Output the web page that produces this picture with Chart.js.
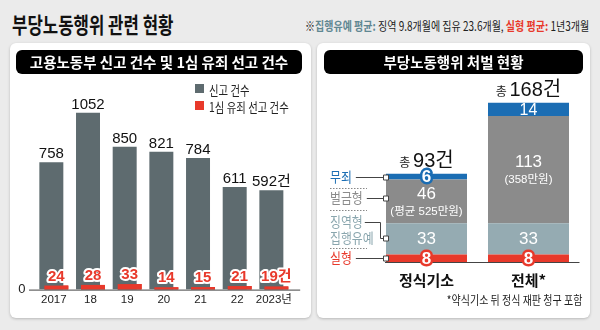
<!DOCTYPE html>
<html>
<head>
<meta charset="utf-8">
<script src="https://cdn.jsdelivr.net/npm/chart.js"></script>
<style>
body { margin: 0; width: 600px; height: 330px; background: #ebebeb; position: relative; overflow: hidden;
       font-family: 'Noto Sans CJK KR', 'Liberation Sans', sans-serif; color: #222; }
.abs { position: absolute; }
#title { left: 12px; top: 11px; font-size: 22px; line-height: 24px; font-weight: bold; color: #111;
         transform: scaleX(0.76); transform-origin: left top; white-space: nowrap; }
#note { right: 11px; top: 19px; font-size: 12.5px; line-height: 14px; white-space: nowrap;
        transform: scaleX(0.8); transform-origin: right top; }
#note .t { color: #5f8792; }
#note .r { color: #e8392b; }
.card { background: #fff; border-radius: 6px; box-shadow: 0 1px 3px rgba(0,0,0,0.22); }
.bar { background: #000; color: #fff; border-radius: 6px; font-weight: bold; font-size: 14.5px;
       line-height: 24px; height: 24px; text-align: center; white-space: nowrap; z-index: 2; }
canvas { position: absolute; }
#legend { left: 195px; top: 82px; z-index: 2; }
#legend div { height: 17px; line-height: 13px; white-space: nowrap; }
#legend i { display: inline-block; width: 9px; height: 9px; vertical-align: top; margin-top: 2px; }
#legend span { display: inline-block; font-size: 13px; margin-left: 5px; transform: scaleX(0.8);
               transform-origin: left top; }
#foot { right: 18px; top: 293px; font-size: 12.5px; line-height: 14px; white-space: nowrap;
        transform: scaleX(0.8); transform-origin: right top; }
</style>
</head>
<body>
<div id="title" class="abs">부당노동행위 관련 현황</div>
<div id="note" class="abs">※<b class="t">집행유예 평균:</b> 징역 9.8개월에 집유 23.6개월, <b class="r">실형 평균:</b> 1년3개월</div>

<div class="abs card" style="left:10px;top:43px;width:301px;height:275px"></div>
<div class="abs card" style="left:317px;top:43px;width:273px;height:275px"></div>
<div class="abs bar" style="left:16px;top:50px;width:286px">고용노동부 신고 건수 및 1심 유죄 선고 건수</div>
<div class="abs bar" style="left:324px;top:50px;width:259px">부당노동행위 처벌 현황</div>

<canvas id="leftChart" width="301" height="275" style="left:10px;top:43px"></canvas>
<canvas id="rightChart" width="273" height="275" style="left:317px;top:43px"></canvas>
<div id="legend" class="abs"></div>
<div id="foot" class="abs">*약식기소 뒤 정식 재판 청구 포함</div>

<script>
// left chart data
const years = ['2017', '18', '19', '20', '21', '22', '2023년'];
const reports = [758, 1052, 850, 821, 784, 611, 592];
const convictions = [24, 28, 33, 14, 15, 21, 19];

// right chart data
const groups = ['정식기소', '전체*'];
const prison = [8, 8];
const suspended = [33, 33];
const fined = [46, 113];
const acquitted = [6, 14];
const fineNotes = ['(평균 525만원)', '(358만원)'];

const RED = '#e8392b', SLATE = '#5e6b6f', TEAL = '#95abb2', GRAY = '#8b8b8b', BLUE = '#1b6db3';
const NUM = "'Liberation Sans', 'Noto Sans CJK KR', sans-serif";
const KR = "'Noto Sans CJK KR', sans-serif";

function condText(ctx, text, x, y, sx) {
    ctx.save();
    ctx.translate(x, y);
    ctx.scale(sx, 1);
    ctx.fillText(text, 0, 0);
    ctx.restore();
    return ctx.measureText(text).width * sx;
}

function outlined(ctx, text, x, y, color, size) {
    ctx.font = 'bold ' + size + 'px ' + NUM;
    ctx.lineJoin = 'round';
    ctx.lineWidth = 5;
    ctx.strokeStyle = color;
    ctx.strokeText(text, x, y);
    ctx.fillStyle = '#fff';
    ctx.fillText(text, x, y);
}

const leftLabels = {
    id: 'leftLabels',
    afterDatasetsDraw(chart) {
        const ctx = chart.ctx;
        const red = chart.getDatasetMeta(1);
        // red bars sit in front of the grey ones
        red.data.forEach(el => el.draw(ctx));

        const y0 = chart.scales.y.getPixelForValue(0);
        ctx.save();
        ctx.strokeStyle = '#444';
        ctx.lineWidth = 1;
        ctx.beginPath();
        ctx.moveTo(chart.chartArea.left - 6.5, y0 + 0.5);
        ctx.lineTo(chart.chartArea.right + 8, y0 + 0.5);
        ctx.stroke();

        ctx.textAlign = 'center';
        const last = years.length - 1;
        chart.getDatasetMeta(0).data.forEach((el, i) => {
            ctx.font = '15px ' + NUM;
            ctx.fillStyle = '#111';
            ctx.fillText(reports[i] + (i === last ? '건' : ''), el.x, el.y - 4);
        });
        red.data.forEach((el, i) => {
            const t = convictions[i] + (i === last ? '건' : '');
            ctx.font = 'bold 15px ' + NUM;
            ctx.lineJoin = 'round';
            ctx.lineWidth = 4;
            ctx.strokeStyle = '#fff';
            ctx.strokeText(t, el.x, el.y - 5);
            ctx.fillStyle = RED;
            ctx.fillText(t, el.x, el.y - 5);
        });
        ctx.restore();
    }
};

const leftChart = new Chart(document.getElementById('leftChart'), {
    type: 'bar',
    data: {
        labels: years,
        datasets: [
            { label: '신고 건수', data: reports, backgroundColor: SLATE, categoryPercentage: 0.2725, barPercentage: 4.8 },
            { label: '1심 유죄 선고 건수', data: convictions, backgroundColor: RED, categoryPercentage: 0.2725, barPercentage: 4.8 }
        ]
    },
    options: {
        responsive: false,
        animation: false,
        layout: { padding: { top: 45, right: 18.8, bottom: 8.6, left: 0 } },
        plugins: { legend: { display: false }, tooltip: { enabled: false } },
        scales: {
            x: {
                grid: { display: false, drawTicks: false },
                border: { display: false },
                ticks: { color: '#222', font: { size: 11.5, family: NUM }, padding: 3, maxRotation: 0, autoSkip: false }
            },
            y: {
                min: 0, max: 1200,
                grid: { display: false, drawTicks: false },
                border: { display: false },
                afterBuildTicks: s => { s.ticks = [{ value: 0 }]; },
                afterFit: s => { s.width = 25.5; },
                ticks: { color: '#222', font: { size: 13, family: NUM }, padding: 10 }
            }
        }
    },
    plugins: [leftLabels]
});

// html legend from the dataset labels
const legend = document.getElementById('legend');
leftChart.data.datasets.forEach(ds => {
    const row = document.createElement('div');
    row.innerHTML = '<i style="background:' + ds.backgroundColor + '"></i><span>' + ds.label + '</span>';
    legend.appendChild(row);
});

const rightLabels = {
    id: 'rightLabels',
    afterDatasetsDraw(chart) {
        const ctx = chart.ctx;
        const metas = [0, 1, 2, 3].map(i => chart.getDatasetMeta(i));
        const mid = el => (el.y + el.base) / 2;
        const y0 = chart.scales.y.getPixelForValue(0);
        const first = metas[0].data[0];
        const barLeft = first.x - first.width / 2;

        ctx.save();
        ctx.strokeStyle = '#444';
        ctx.lineWidth = 1;
        ctx.beginPath();
        ctx.moveTo(barLeft - 1, y0 + 0.5);
        ctx.lineTo(chart.chartArea.right, y0 + 0.5);
        ctx.stroke();

        ctx.textAlign = 'center';
        ctx.textBaseline = 'middle';
        for (let i = 0; i < groups.length; i++) {
            const r = metas[0].data[i], s = metas[1].data[i], f = metas[2].data[i], a = metas[3].data[i];
            outlined(ctx, String(prison[i]), r.x, mid(r) + 1, RED, 17);
            ctx.fillStyle = '#fff';
            ctx.font = '17px ' + NUM;
            ctx.fillText(String(suspended[i]), s.x, mid(s) + 1);
            ctx.fillText(String(fined[i]), f.x, mid(f) - 7);
            ctx.font = '11.5px ' + NUM;
            ctx.fillText(fineNotes[i], f.x, mid(f) + 10);
            if (a.base - a.y < 12) {
                outlined(ctx, String(acquitted[i]), a.x, mid(a) + 1, BLUE, 17);
            } else {
                ctx.fillStyle = '#fff';
                ctx.font = '16px ' + NUM;
                ctx.fillText(String(acquitted[i]), a.x, mid(a) + 1);
            }
            // total above the stack
            const total = prison[i] + suspended[i] + fined[i] + acquitted[i];
            const big = total + '건';
            ctx.textBaseline = 'alphabetic';
            ctx.textAlign = 'left';
            ctx.font = '12px ' + KR;
            const w1 = ctx.measureText('총 ').width;
            ctx.font = '20px ' + NUM;
            const w2 = ctx.measureText(big).width;
            const x0 = a.x - (w1 + w2) / 2;
            const by = a.y - 7;
            ctx.fillStyle = '#222';
            ctx.font = '12px ' + KR;
            ctx.fillText('총 ', x0, by);
            ctx.fillStyle = '#111';
            ctx.font = '20px ' + NUM;
            ctx.fillText(big, x0 + w1, by);
            ctx.textAlign = 'center';
            ctx.textBaseline = 'middle';
        }

        // side annotations for the first stack
        const r = metas[0].data[0], s = metas[1].data[0], f = metas[2].data[0], a = metas[3].data[0];
        const tx = 13;
        const rows = [
            { text: '무죄', color: BLUE, y: mid(a) },
            { text: '벌금형', color: GRAY, y: mid(f) - 3 },
            { text: '징역형', color: '#8aa6ae', y: mid(s) - 17 },
            { text: '집행유예', color: '#8aa6ae', y: mid(s) - 1 },
            { text: '실형', color: RED, y: mid(r) }
        ];
        ctx.textAlign = 'left';
        ctx.font = '13.5px ' + KR;
        const ends = rows.map(row => {
            ctx.fillStyle = row.color;
            return tx + condText(ctx, row.text, tx, row.y, 0.88);
        });
        ctx.strokeStyle = '#444';
        ctx.lineWidth = 1;
        [0, 1, 3, 4].forEach(k => {
            ctx.beginPath();
            if (k === 3) {
                ctx.moveTo(ends[2] + 2, Math.round(rows[2].y) + 0.5);
                ctx.lineTo(barLeft - 5.5, Math.round(rows[2].y) + 0.5);
                ctx.lineTo(barLeft - 5.5, Math.round(rows[3].y) + 0.5);
                ctx.lineTo(barLeft, Math.round(rows[3].y) + 0.5);
            } else {
                ctx.moveTo(ends[k] + 4, Math.round(rows[k].y) + 0.5);
                ctx.lineTo(barLeft, Math.round(rows[k].y) + 0.5);
            }
            ctx.stroke();
            ctx.fillStyle = '#fff';
            ctx.fillRect(Math.round(barLeft) - 2.5, Math.round(rows[k].y) - 2, 5, 5);
            ctx.strokeRect(Math.round(barLeft) - 2.5, Math.round(rows[k].y) - 2, 5, 5);
        });
        // dotted separators
        ctx.strokeStyle = '#888';
        ctx.setLineDash([1.5, 1.5]);
        [[0, 1], [1, 2], [3, 4]].forEach(([p, q]) => {
            const yy = Math.round((rows[p].y + rows[q].y) / 2) + 0.5;
            ctx.beginPath();
            ctx.moveTo(tx, yy);
            ctx.lineTo(tx + 37, yy);
            ctx.stroke();
        });
        ctx.restore();
    }
};

new Chart(document.getElementById('rightChart'), {
    type: 'bar',
    data: {
        labels: groups,
        datasets: [
            { label: '실형', data: prison, backgroundColor: RED },
            { label: '징역형 집행유예', data: suspended, backgroundColor: TEAL },
            { label: '벌금형', data: fined, backgroundColor: GRAY },
            { label: '무죄', data: acquitted, backgroundColor: BLUE }
        ]
    },
    options: {
        responsive: false,
        animation: false,
        datasets: { bar: { categoryPercentage: 1, barPercentage: 0.794 } },
        layout: { padding: { top: 10.5, right: 10.5, bottom: 20, left: 58.5 } },
        plugins: { legend: { display: false }, tooltip: { enabled: false } },
        scales: {
            x: {
                stacked: true,
                grid: { display: false, drawTicks: false },
                border: { display: false },
                ticks: { color: '#111', font: { size: 15, weight: 'bold', family: KR }, padding: 9, maxRotation: 0 }
            },
            y: { stacked: true, min: 0, max: 220, display: false }
        }
    },
    plugins: [rightLabels]
});
</script>
</body>
</html>
